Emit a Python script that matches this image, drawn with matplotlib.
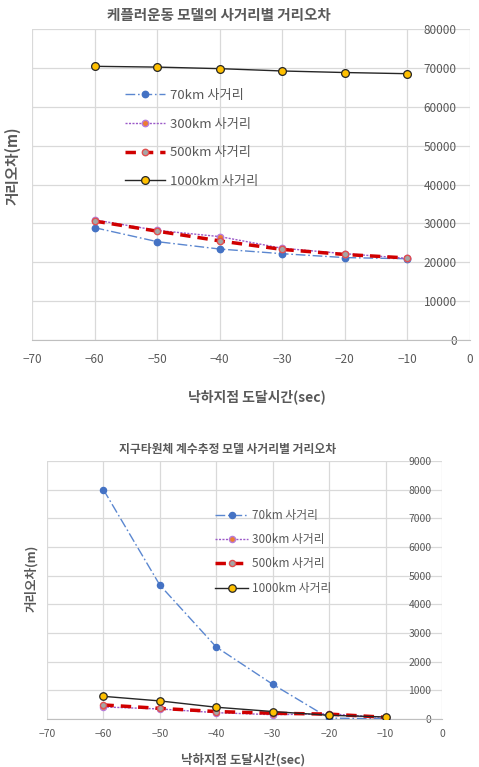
import matplotlib.pyplot as plt

plt.rcParams['font.family'] = ['Noto Sans CJK KR', 'DejaVu Sans']

# 낙하지점 도달시간 (sec)
times = [-60, -50, -40, -30, -20, -10]
labels = ['70km 사거리', '300km 사거리', '500km 사거리', '1000km 사거리']

# 케플러운동 모델 거리오차 (m)
kepler_70 = [28900, 25300, 23400, 22200, 21200, 20900]
kepler_300 = [30900, 28200, 26600, 23600, 22200, 21000]
kepler_500 = [30600, 28000, 25500, 23300, 22000, 21100]
kepler_1000 = [70400, 70200, 69800, 69200, 68800, 68500]

# 지구타원체 계수추정 모델 거리오차 (m)
ellip_70 = [8000, 4670, 2510, 1210, 30, 10]
ellip_300 = [420, 350, 220, 150, 180, 50]
ellip_500 = [490, 370, 260, 200, 170, 60]
ellip_1000 = [790, 630, 410, 260, 130, 70]

GREY = '#595959'


def draw_series(ax, values, ms):
    v70, v300, v500, v1000 = values
    ax.plot(times, v70, color='#5B87D0', lw=1, dashes=(7, 2, 1.2, 2),
            marker='o', ms=ms, mfc='#4472C4', mec='#4472C4', label=labels[0], zorder=3)
    ax.plot(times, v300, color='#9B59C8', lw=1, dashes=(1.5, 1),
            marker='o', ms=ms, mfc='#ED7D31', mec='#B87CD8', label=labels[1], zorder=4)
    ax.plot(times, v500, color='#D00000', lw=2.5, dashes=(3, 2),
            marker='o', ms=ms, mfc='#A5A5A5', mec='#E05050', mew=1, label=labels[2], zorder=5)
    ax.plot(times, v1000, color='#262626', lw=1,
            marker='o', ms=ms + 1, mfc='#FFC000', mec='#262626', mew=0.9, label=labels[3], zorder=6)


def style_axes(ax, ymax, ystep, tick_fs, ylabel_pad, xlabel_pad):
    ax.set_xlim(-70, 0)
    ax.set_ylim(0, ymax)
    ax.set_xticks(range(-70, 1, 10))
    ax.set_yticks(range(0, ymax + 1, ystep))
    ax.grid(True, color='#D9D9D9', lw=0.9)
    ax.set_axisbelow(True)
    for side in ['left', 'top', 'right']:
        ax.spines[side].set_visible(False)
    ax.spines['bottom'].set_color('#BFBFBF')
    ax.yaxis.tick_right()
    ax.tick_params(axis='y', length=0, pad=ylabel_pad, labelsize=tick_fs, labelcolor=GREY)
    ax.tick_params(axis='x', length=0, pad=xlabel_pad, labelsize=tick_fs, labelcolor=GREY)
    plt.setp(ax.get_yticklabels(), ha='right')
    ax.yaxis.set_label_position('left')


fig = plt.figure(figsize=(4.79, 7.67), dpi=100)

# 케플러운동 모델
ax1 = fig.add_axes([0.0668, 0.5567, 0.9144, 0.4055])
draw_series(ax1, [kepler_70, kepler_300, kepler_500, kepler_1000], 4.6)
style_axes(ax1, 80000, 10000, 8.5, -9.5, 9)
ax1.set_title('케플러운동 모델의 사거리별 거리오차', x=0.427, y=1.045, pad=0,
              va='center', fontsize=10.5, fontweight='bold', color=GREY)
ax1.set_xlabel('낙하지점 도달시간(sec)', fontsize=10, fontweight='bold', color=GREY)
ax1.xaxis.set_label_coords(0.513, -0.158)
ax1.set_ylabel('거리오차(m)', fontsize=10.5, fontweight='bold', color=GREY)
ax1.yaxis.set_label_coords(-0.027, 0.56)
ax1.legend(loc='upper left', bbox_to_anchor=(125 / 479, 1 - 89 / 767),
           bbox_transform=fig.transFigure, frameon=False, fontsize=9.5,
           labelcolor=GREY, handlelength=3.0, handletextpad=0.4,
           labelspacing=1.18, borderpad=0, borderaxespad=0)

# 지구타원체 계수추정 모델
ax2 = fig.add_axes([0.0981, 0.0626, 0.8246, 0.3364])
draw_series(ax2, [ellip_70, ellip_300, ellip_500, ellip_1000], 4.4)
style_axes(ax2, 9000, 1000, 7.5, -7.5, 7)
ax2.set_title('지구타원체 계수추정 모델 사거리별 거리오차', x=0.458, y=1.043, pad=0,
              va='center', fontsize=8.5, fontweight='bold', color=GREY)
ax2.set_xlabel('낙하지점 도달시간(sec)', fontsize=9, fontweight='bold', color=GREY)
ax2.xaxis.set_label_coords(0.496, -0.132)
ax2.set_ylabel('거리오차(m)', fontsize=9, fontweight='bold', color=GREY)
ax2.yaxis.set_label_coords(-0.023, 0.547)
ax2.legend(loc='upper left', bbox_to_anchor=(215 / 479, 1 - 509 / 767),
           bbox_transform=fig.transFigure, frameon=False, fontsize=8.5,
           labelcolor=GREY, handlelength=2.8, handletextpad=0.35,
           labelspacing=0.95, borderpad=0, borderaxespad=0)

plt.savefig('out.png', dpi=100)
plt.close()
